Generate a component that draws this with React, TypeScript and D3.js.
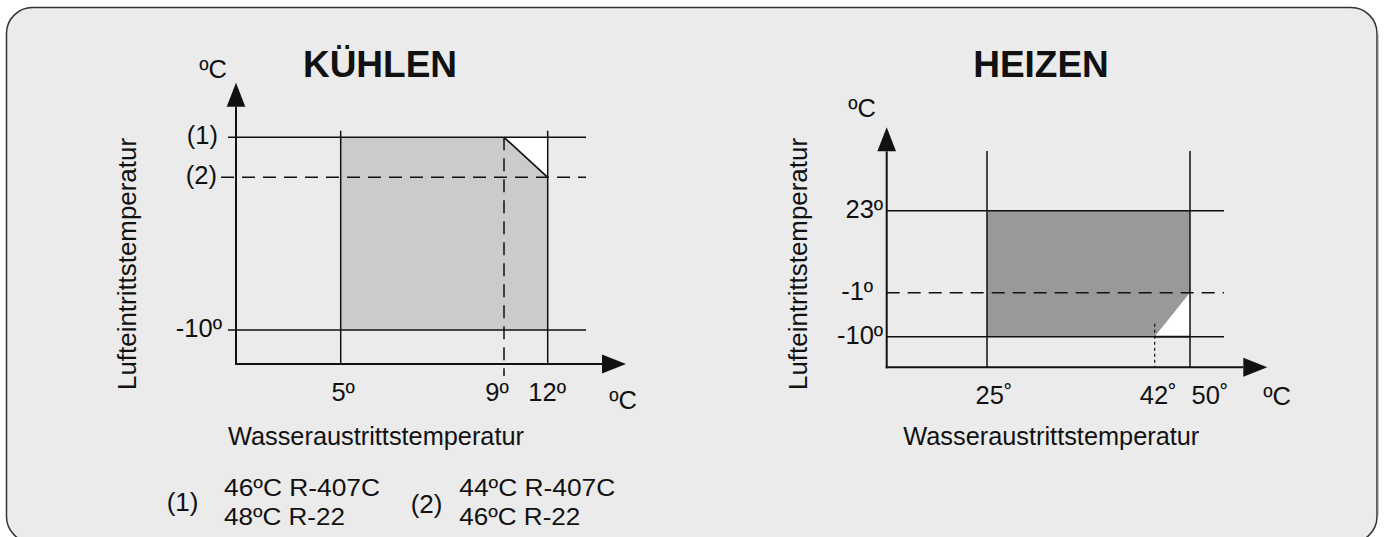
import React from 'react';
import * as d3 from 'd3';

// KÜHLEN (cooling) - water outlet temp (x) vs. air inlet temp (y)
const coolXValues = [5, 9, 12];
const coolXLabels = ['5º', '9º', '12º'];
const coolYValues = [46, 44, -10]; // (1) 46ºC R-407C, (2) 44ºC R-407C
const coolYLabels = ['(1)', '(2)', '-10º'];
const coolEnvelope: [number, number][] = [[5, -10], [5, 46], [9, 46], [12, 44], [12, -10]];
const coolCut: [number, number][] = [[9, 46], [12, 46], [12, 44]];

// HEIZEN (heating)
const heatXValues = [25, 42, 50];
const heatXLabels = ['25˚', '42˚', '50˚'];
const heatYValues = [23, -1, -10];
const heatYLabels = ['23º', '-1º', '-10º'];
const heatEnvelope: [number, number][] = [[25, -10], [25, 23], [50, 23], [50, -1], [42, -10]];
const heatCut: [number, number][] = [[42, -10], [50, -1], [50, -10]];

const noteLines1 = ['46ºC R-407C', '48ºC R-22'];
const noteLines2 = ['44ºC R-407C', '46ºC R-22'];

const FONT = '"Liberation Sans", Arial, Helvetica, sans-serif';
const FS = 25.5;

type PanelProps = {
  title: string;
  titleX: number;
  x: d3.ScaleLinear<number, number>;
  y: d3.ScaleLinear<number, number>;
  xOrigin: number;
  yOrigin: number;
  xVals: number[];
  xLabels: string[];
  xLabelDx: number[];
  yVals: number[];
  yLabels: string[];
  yLabelDx: number[];
  yLabelGap: number;
  dashedY: number;
  dashedX: number | null;
  dottedX: number | null;
  envelope: [number, number][];
  cut: [number, number][];
  fill: string;
  hStart: number;
  dashStart: number;
  lineEnd: number;
  vTop: number;
  yArrowTip: number;
  xArrowTip: number;
  unitTop: [number, number];
  unitRight: [number, number];
  yLabelX: number;
  xLabelX: number;
};

const Panel = (p: PanelProps) => {
  const line = d3.line<[number, number]>().x(d => p.x(d[0])).y(d => p.y(d[1]));
  const ox = p.x(p.xOrigin);
  const oy = p.y(p.yOrigin);
  const ya = p.yArrowTip + 24;
  const xa = p.xArrowTip - 24;
  return (
    <g fontFamily={FONT} fill="#111">
      <path d={line(p.envelope) + 'Z'} fill={p.fill} />
      <path d={line(p.cut) + 'Z'} fill="#fff" />
      <path d={line([p.cut[0], p.cut[2]]) ?? ''} stroke="#111" strokeWidth={1.7} fill="none" />

      {/* horizontal limits */}
      {p.yVals.map(v => (
        <line key={'h' + v} x1={v === p.dashedY ? p.dashStart : p.hStart} x2={p.lineEnd} y1={p.y(v)} y2={p.y(v)}
          stroke="#111" strokeWidth={1.5} strokeDasharray={v === p.dashedY ? '13,8' : undefined} />
      ))}
      {/* vertical limits */}
      {p.xVals.filter(v => v !== p.dashedX && v !== p.dottedX).map(v => (
        <line key={'v' + v} x1={p.x(v)} x2={p.x(v)} y1={p.vTop} y2={oy} stroke="#111" strokeWidth={1.5} />
      ))}
      {p.dashedX !== null && (
        <line x1={p.x(p.dashedX)} x2={p.x(p.dashedX)} y1={p.y(p.yVals[0])} y2={oy + 12}
          stroke="#111" strokeWidth={1.5} strokeDasharray="13,8" />
      )}
      {p.dottedX !== null && (
        <line x1={p.x(p.dottedX)} x2={p.x(p.dottedX)} y1={p.y(p.yVals[p.yVals.length - 1]) - 13} y2={oy}
          stroke="#111" strokeWidth={1.2} strokeDasharray="3,3" />
      )}

      {/* axes */}
      <line x1={ox} x2={ox} y1={ya} y2={oy + 1} stroke="#111" strokeWidth={2} />
      <line x1={ox - 1} x2={xa} y1={oy} y2={oy} stroke="#111" strokeWidth={2} />
      <path d={`M${ox},${p.yArrowTip}L${ox - 9.3},${ya}L${ox + 9.3},${ya}Z`} />
      <path d={`M${p.xArrowTip},${oy}L${xa},${oy - 9.5}L${xa},${oy + 9.5}Z`} />

      {/* tick labels */}
      {p.yVals.map((v, i) => (
        <text key={'yl' + v} x={ox - p.yLabelGap + p.yLabelDx[i]} y={p.y(v)} dy="0.28em" textAnchor="end" fontSize={FS}>
          {p.yLabels[i]}
        </text>
      ))}
      {p.xVals.map((v, i) => (
        <text key={'xl' + v} x={p.x(v) + p.xLabelDx[i]} y={oy + 37} textAnchor="middle" fontSize={FS}>
          {p.xLabels[i]}
        </text>
      ))}
      <text x={p.unitTop[0]} y={p.unitTop[1]} fontSize={FS}>ºC</text>
      <text x={p.unitRight[0]} y={p.unitRight[1]} fontSize={FS}>ºC</text>

      <text x={p.titleX} y={77} textAnchor="middle" fontSize={37} fontWeight="bold">{p.title}</text>
      <text transform={`translate(${p.yLabelX},264) rotate(-90)`} textAnchor="middle" fontSize={25}
        textLength={252} lengthAdjust="spacingAndGlyphs">Lufteintrittstemperatur</text>
      <text x={p.xLabelX} y={445} textAnchor="middle" fontSize={25}
        textLength={296} lengthAdjust="spacingAndGlyphs">Wasseraustrittstemperatur</text>
    </g>
  );
};

// footnote block: two stacked lines, slightly widened to the reference width
const Note = ({ x, lines }: { x: number; lines: string[] }) => (
  <>
    {lines.map((t, i) => (
      <text key={t} x={x} y={496 + i * 28.5} textLength={t.length > 10 ? 156 : 121} lengthAdjust="spacingAndGlyphs">
        {t}
      </text>
    ))}
  </>
);

export default function App() {
  const coolX = d3.scaleLinear().domain([2, 5, 9, 12]).range([236, 340.7, 504, 547.7]);
  const coolY = d3.scaleLinear().domain([-14, -10, 44, 46]).range([364, 330, 177.3, 137.3]);
  const heatX = d3.scaleLinear().domain([20, 25, 42, 50]).range([886.7, 987, 1154.7, 1190]);
  const heatY = d3.scaleLinear().domain([-14, -10, -1, 23]).range([367.3, 336.7, 292.7, 210.7]);

  return (
    <svg width={1385} height={537} style={{ position: 'absolute', left: 0, top: 0, display: 'block' }}>
      <rect x={6.5} y={7.5} width={1370.5} height={535} rx={26} fill="#ebebeb" stroke="#333" strokeWidth={1.5} />
      <line x1={1377.8} x2={1377.8} y1={34} y2={516} stroke="#777" strokeWidth={1.2} />

      <Panel title="KÜHLEN" titleX={380} x={coolX} y={coolY} xOrigin={2} yOrigin={-14}
        xVals={coolXValues} xLabels={coolXLabels} xLabelDx={[2.5, -7, -0.5]}
        yVals={coolYValues} yLabels={coolYLabels} yLabelDx={[-1, -2, 3]} yLabelGap={17}
        dashedY={44} dashedX={9} dottedX={null} envelope={coolEnvelope} cut={coolCut} fill="#cbcbcb"
        hStart={228} dashStart={221} lineEnd={586} vTop={130.7} yArrowTip={82.7} xArrowTip={626}
        unitTop={[199.3, 78.3]} unitRight={[609.3, 409]} yLabelX={136} xLabelX={376} />

      <Panel title="HEIZEN" titleX={1041} x={heatX} y={heatY} xOrigin={20} yOrigin={-14}
        xVals={heatXValues} xLabels={heatXLabels} xLabelDx={[7, 3.6, 20]}
        yVals={heatYValues} yLabels={heatYLabels} yLabelDx={[0, -10, 0]} yLabelGap={3.5}
        dashedY={-1} dashedX={null} dottedX={42} envelope={heatEnvelope} cut={heatCut} fill="#999999"
        hStart={886.7} dashStart={886.7} lineEnd={1224} vTop={151} yArrowTip={127.3} xArrowTip={1267.3}
        unitTop={[848.3, 117.3]} unitRight={[1263.3, 405]} yLabelX={806.7} xLabelX={1051.3} />

      {/* footnotes */}
      <g fontFamily={FONT} fontSize={24} fill="#111">
        <text x={166.7} y={511} fontSize={26}>(1)</text>
        <Note x={224} lines={noteLines1} />
        <text x={410.7} y={513} fontSize={26}>(2)</text>
        <Note x={459.3} lines={noteLines2} />
      </g>
    </svg>
  );
}
